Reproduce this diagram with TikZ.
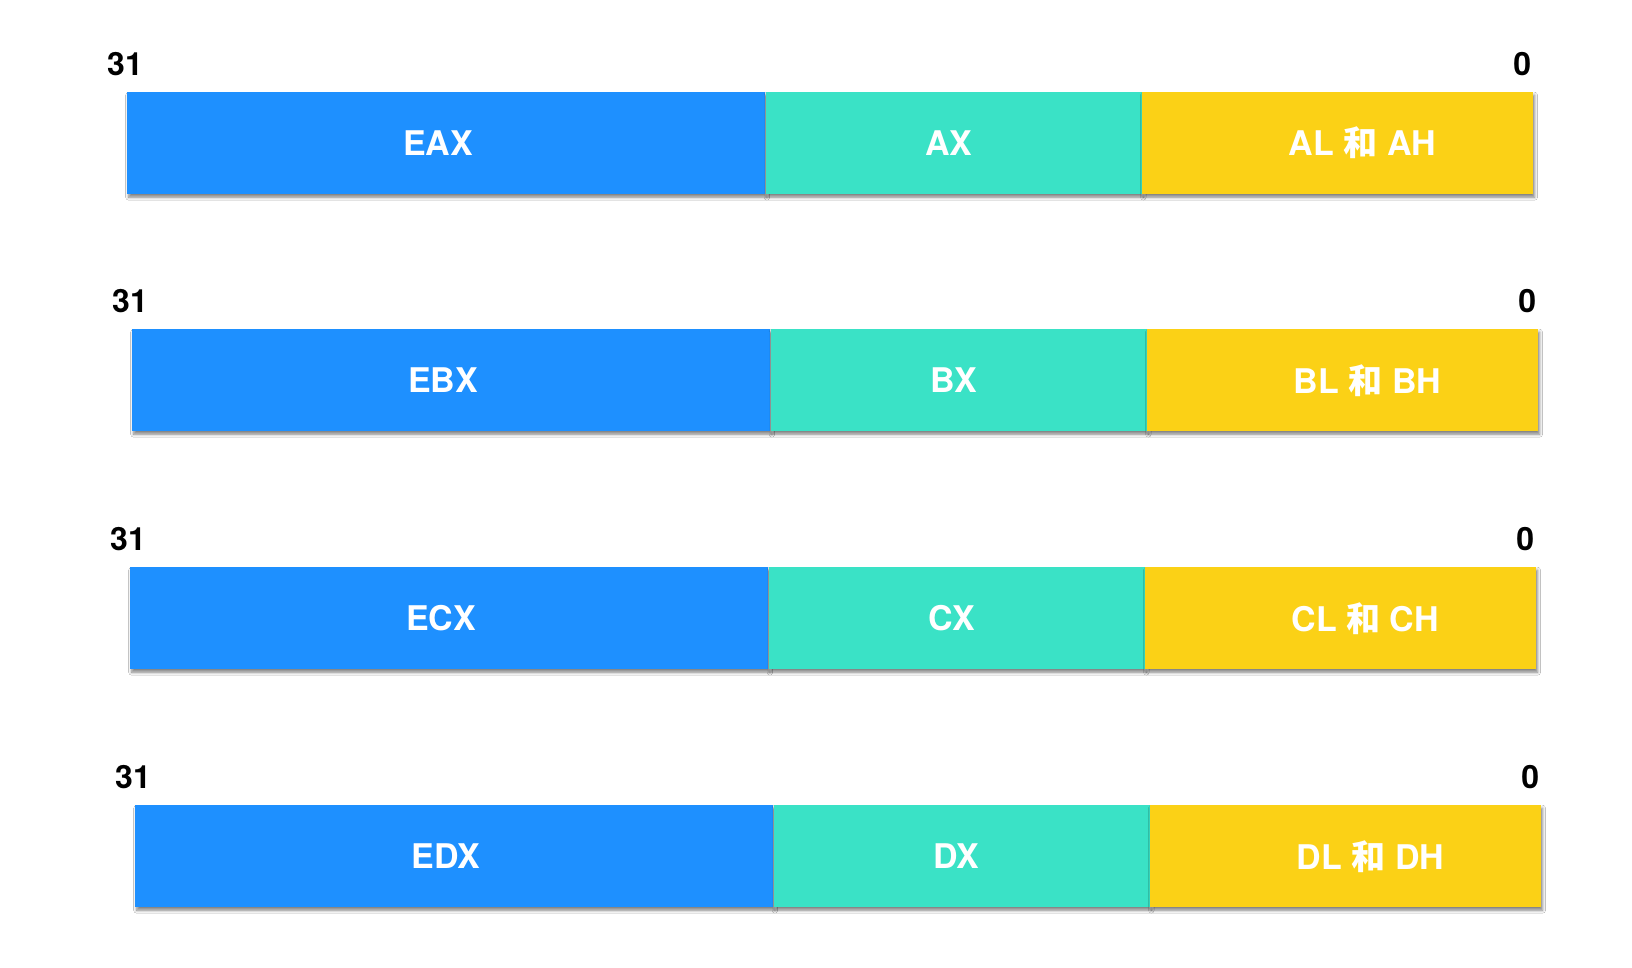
\documentclass[tikz,border=0pt]{standalone}
\usepackage{fontspec}
\setmainfont{TeX Gyre Heros}
\newfontfamily\cjk{Noto Sans CJK SC}
\usetikzlibrary{positioning,shadows.blur}
\definecolor{regblue}{HTML}{1E90FF}
\definecolor{regteal}{HTML}{3AE2C6}
\definecolor{regyellow}{HTML}{FBD116}
\tikzset{
  regtext/.style={text=white, inner sep=0pt, font=\fontsize{34}{40}\selectfont\bfseries},
  regbox/.style={rectangle, inner sep=0pt, minimum height=102pt,
    blur shadow={shadow xshift=1.5pt, shadow yshift=-3pt, shadow blur radius=3pt, shadow opacity=50}},
  ebox/.style={regbox, fill=regblue, minimum width=638pt},
  xbox/.style={regbox, fill=regteal, minimum width=376pt},
  lhbox/.style={regbox, fill=regyellow, minimum width=391pt},
  bitno/.style={font=\fontsize{32}{36}\selectfont\bfseries, inner sep=0pt},
}
\begin{document}
\begin{tikzpicture}[x=1pt,y=-1pt]
 \useasboundingbox[fill=white] (0,0) rectangle (1632,968);
 % EAX
 \node[ebox, anchor=north west] (eax) at (127,92) {};
 \node[xbox, right=0pt of eax] (ax) {};
 \node[lhbox, right=0pt of ax] (al) {};
 \node[regtext] (eaxtext) at ([xshift=-8pt]eax.center) {EAX};
 \node[regtext] (axtext) at ([xshift=-5pt]ax.center) {AX};
 \node[regtext] (altext) at ([xshift=25pt]al.center) {AL {\cjk 和} AH};
 \node[bitno] (eaxhi) at ([xshift=-2pt,yshift=28pt]eax.north west) {31};
 \node[bitno] (eaxlo) at ([xshift=-11pt,yshift=28pt]al.north east) {0};
 % EBX
 \node[ebox, anchor=north west] (ebx) at (132,329) {};
 \node[xbox, right=0pt of ebx] (bx) {};
 \node[lhbox, right=0pt of bx] (bl) {};
 \node[regtext] (ebxtext) at ([xshift=-8pt]ebx.center) {EBX};
 \node[regtext] (bxtext) at ([xshift=-5pt]bx.center) {BX};
 \node[regtext] (bltext) at ([xshift=25pt]bl.center) {BL {\cjk 和} BH};
 \node[bitno] (ebxhi) at ([xshift=-2pt,yshift=28pt]ebx.north west) {31};
 \node[bitno] (ebxlo) at ([xshift=-11pt,yshift=28pt]bl.north east) {0};
 % ECX
 \node[ebox, anchor=north west] (ecx) at (130,567) {};
 \node[xbox, right=0pt of ecx] (cx) {};
 \node[lhbox, right=0pt of cx] (cl) {};
 \node[regtext] (ecxtext) at ([xshift=-8pt]ecx.center) {ECX};
 \node[regtext] (cxtext) at ([xshift=-5pt]cx.center) {CX};
 \node[regtext] (cltext) at ([xshift=25pt]cl.center) {CL {\cjk 和} CH};
 \node[bitno] (ecxhi) at ([xshift=-2pt,yshift=28pt]ecx.north west) {31};
 \node[bitno] (ecxlo) at ([xshift=-11pt,yshift=28pt]cl.north east) {0};
 % EDX
 \node[ebox, anchor=north west] (edx) at (135,805) {};
 \node[xbox, right=0pt of edx] (dx) {};
 \node[lhbox, right=0pt of dx] (dl) {};
 \node[regtext] (edxtext) at ([xshift=-8pt]edx.center) {EDX};
 \node[regtext] (dxtext) at ([xshift=-5pt]dx.center) {DX};
 \node[regtext] (dltext) at ([xshift=25pt]dl.center) {DL {\cjk 和} DH};
 \node[bitno] (edxhi) at ([xshift=-2pt,yshift=28pt]edx.north west) {31};
 \node[bitno] (edxlo) at ([xshift=-11pt,yshift=28pt]dl.north east) {0};
\end{tikzpicture}
\end{document}
